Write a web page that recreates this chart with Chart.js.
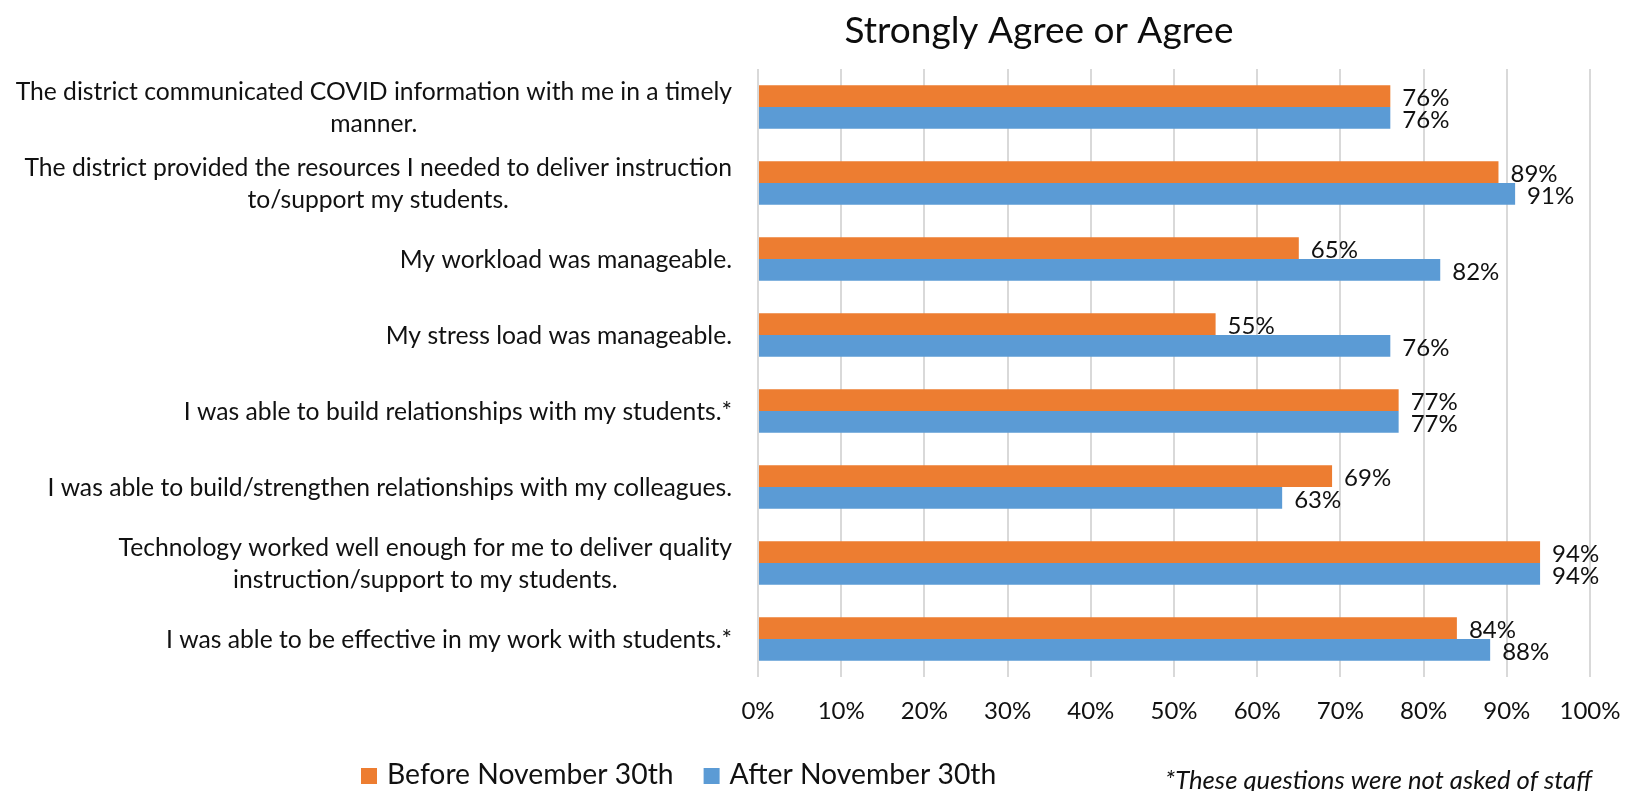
<!DOCTYPE html>
<html>
<head>
<meta charset="utf-8">
<script src="https://cdn.jsdelivr.net/npm/chart.js@4.4.1/dist/chart.umd.min.js"></script>
<style>
  html, body { margin: 0; padding: 0; background: #ffffff; overflow: hidden; }
  #wrap { position: relative; width: 1633px; height: 791px; }
</style>
</head>
<body>
<div id="wrap"><canvas id="chart" width="1633" height="791"></canvas></div>
<script>
// Survey statements (wrapped as they appear on the axis)
const categories = [
  ['The district communicated COVID information with me in a timely', 'manner.'],
  ['The district provided the resources I needed to deliver instruction', 'to/support my students.'],
  ['My workload was manageable.'],
  ['My stress load was manageable.'],
  ['I was able to build relationships with my students.*'],
  ['I was able to build/strengthen relationships with my colleagues.'],
  ['Technology worked well enough for me to deliver quality', 'instruction/support to my students.'],
  ['I was able to be effective in my work with students.*']
];

const seriesNames = ['Before November 30th', 'After November 30th'];
const seriesColors = ['#ED7D31', '#5B9BD5'];

// Percent answering "Strongly Agree" or "Agree"
const beforeValues = [76, 89, 65, 55, 77, 69, 94, 84];
const afterValues  = [76, 91, 82, 76, 77, 63, 94, 88];

const tickValues = [0, 10, 20, 30, 40, 50, 60, 70, 80, 90, 100];

const chartTitle = 'Strongly Agree or Agree';
const footnote = '*These questions were not asked of staff';

const FONT = 'Lato, "Open Sans", sans-serif';
const TEXT = '#111111';

// Category labels: each block right-aligned to the axis, lines centred within the block
const categoryLabels = {
  id: 'categoryLabels',
  afterDraw(chart) {
    const ctx = chart.ctx;
    const y = chart.scales.y;
    const right = chart.chartArea.left - 26;
    const lineH = 32;
    ctx.save();
    ctx.font = '24.7px ' + FONT;
    ctx.fillStyle = TEXT;
    ctx.textAlign = 'center';
    ctx.textBaseline = 'middle';
    categories.forEach((lines, i) => {
      const cy = y.getPixelForTick(i);
      const w = Math.max(...lines.map(l => ctx.measureText(l).width));
      const cx = right - w / 2;
      const y0 = cy - (lines.length - 1) * lineH / 2;
      lines.forEach((l, k) => ctx.fillText(l, cx, y0 + k * lineH + 1));
    });
    ctx.restore();
  }
};

// Value labels at the end of each bar
const valueLabels = {
  id: 'valueLabels',
  afterDatasetsDraw(chart) {
    const ctx = chart.ctx;
    ctx.save();
    ctx.font = '24px ' + FONT;
    ctx.fillStyle = TEXT;
    ctx.textAlign = 'left';
    ctx.textBaseline = 'middle';
    chart.data.datasets.forEach((ds, di) => {
      const meta = chart.getDatasetMeta(di);
      meta.data.forEach((bar, i) => {
        ctx.fillText(ds.data[i] + '%', bar.x + 12, bar.y + 2);
      });
    });
    ctx.restore();
  }
};

// Title, legend and footnote
const decorations = {
  id: 'decorations',
  afterDraw(chart) {
    const ctx = chart.ctx;
    ctx.save();
    ctx.fillStyle = '#0d0d0d';
    ctx.font = '37px ' + FONT;
    ctx.textAlign = 'center';
    ctx.textBaseline = 'alphabetic';
    ctx.fillText(chartTitle, 1039, 43);

    ctx.font = '28.3px ' + FONT;
    ctx.textAlign = 'left';
    let x = 361;
    chart.data.datasets.forEach(ds => {
      ctx.fillStyle = ds.backgroundColor;
      ctx.fillRect(x, 768, 16, 16);
      ctx.fillStyle = TEXT;
      ctx.fillText(ds.label, x + 26, 784);
      x += 26 + ctx.measureText(ds.label).width + 30;
    });

    ctx.font = 'italic 25.7px ' + FONT;
    ctx.fillText(footnote, 1165, 789);
    ctx.restore();
  }
};

new Chart(document.getElementById('chart'), {
  type: 'bar',
  data: {
    labels: categories,
    datasets: [
      { label: seriesNames[0], data: beforeValues, backgroundColor: seriesColors[0] },
      { label: seriesNames[1], data: afterValues, backgroundColor: seriesColors[1] }
    ]
  },
  options: {
    indexAxis: 'y',
    responsive: false,
    animation: false,
    devicePixelRatio: 1,
    layout: { padding: { top: 69, right: 43, bottom: 0, left: 0 } },
    datasets: { bar: { categoryPercentage: 0.575, barPercentage: 1 } },
    plugins: {
      legend: { display: false },
      title: { display: false },
      tooltip: { enabled: false }
    },
    scales: {
      y: {
        grid: { display: false },
        border: { display: false },
        ticks: { display: false },
        afterFit(scale) { scale.width = 758; }
      },
      x: {
        min: 0,
        max: 100,
        afterBuildTicks(scale) { scale.ticks = tickValues.map(v => ({ value: v })); },
        ticks: {
          callback: v => v + '%',
          font: { family: FONT, size: 24 },
          color: TEXT,
          padding: 20,
          maxRotation: 0
        },
        grid: { color: '#d9d9d9', lineWidth: 2, drawTicks: false },
        border: { display: false },
        afterFit(scale) {
          scale.height = 114;
          scale.paddingLeft = 0;
          scale.paddingRight = 0;
        }
      }
    }
  },
  plugins: [categoryLabels, valueLabels, decorations]
});
</script>
</body>
</html>
